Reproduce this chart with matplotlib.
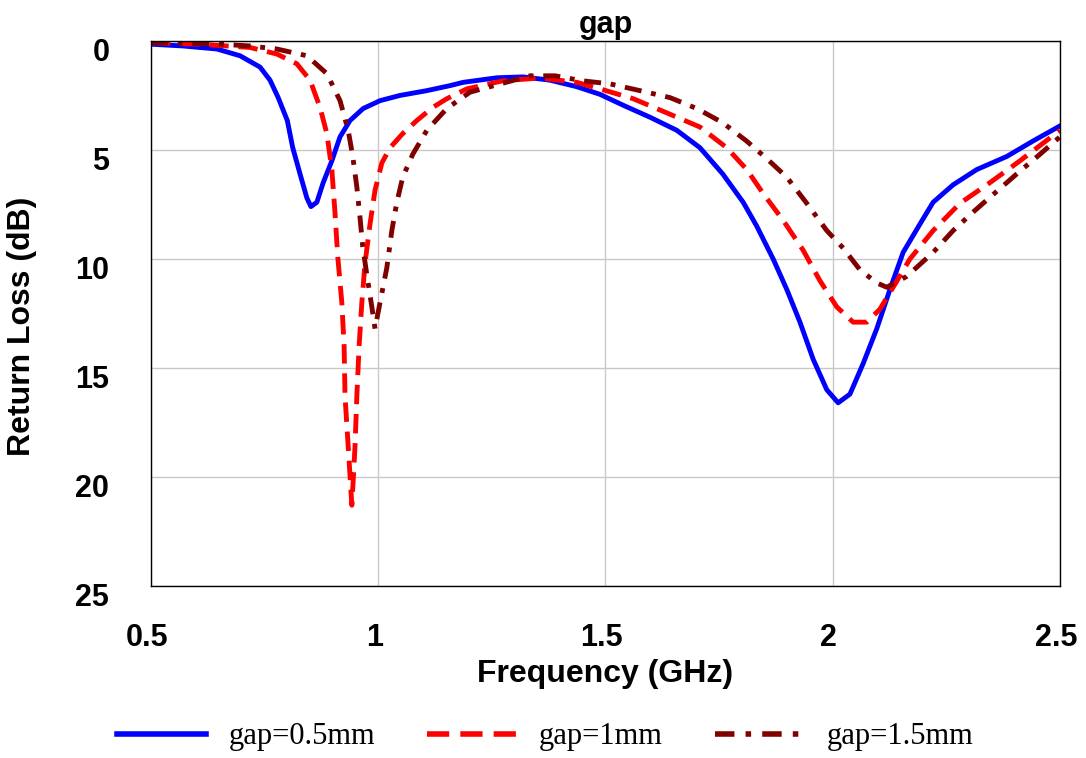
import matplotlib
matplotlib.use("Agg")
import matplotlib.pyplot as plt
import matplotlib.transforms as mtransforms

# Return loss curves (x in GHz, y in dB)
freq_05 = [0.5, 0.57, 0.645, 0.696, 0.74, 0.762, 0.78, 0.80, 0.812, 0.828, 0.843, 0.852,
           0.865, 0.879, 0.898, 0.916, 0.938, 0.967, 1.004, 1.048, 1.107, 1.158, 1.187,
           1.261, 1.318, 1.378, 1.437, 1.488, 1.539, 1.598, 1.657, 1.708, 1.758, 1.803,
           1.833, 1.869, 1.899, 1.928, 1.957, 1.987, 2.012, 2.038, 2.067, 2.097, 2.126,
           2.155, 2.192, 2.221, 2.265, 2.317, 2.383, 2.44, 2.5]
rl_05 = [0.15, 0.23, 0.37, 0.68, 1.2, 1.8, 2.6, 3.65, 4.9, 6.1, 7.2, 7.6,
         7.4, 6.5, 5.5, 4.4, 3.65, 3.1, 2.74, 2.5, 2.28, 2.05, 1.9,
         1.69, 1.65, 1.8, 2.1, 2.45, 2.95, 3.5, 4.1, 4.9, 6.1, 7.4,
         8.5, 10.0, 11.4, 12.9, 14.6, 16.0, 16.6, 16.2, 14.8, 13.2, 11.4,
         9.7, 8.4, 7.4, 6.6, 5.9, 5.3, 4.6, 3.9]

freq_1 = [0.5, 0.608, 0.718, 0.777, 0.821, 0.85, 0.872, 0.887, 0.898, 0.905, 0.911, 0.92,
          0.925, 0.927, 0.934, 0.942, 0.949, 0.953, 0.958, 0.964, 0.971, 0.982, 0.993,
          1.008, 1.026, 1.054, 1.085, 1.12, 1.151, 1.195, 1.274, 1.356, 1.437, 1.488,
          1.561, 1.635, 1.708, 1.767, 1.811, 1.847, 1.89, 1.935, 1.972, 2.009, 2.045,
          2.075, 2.104, 2.133, 2.17, 2.221, 2.28, 2.346, 2.412, 2.5]
rl_1 = [0.08, 0.15, 0.3, 0.6, 1.05, 1.8, 3.05, 4.25, 5.9, 7.9, 9.9, 12.0,
        14.0, 16.3, 18.6, 21.3, 18.6, 16.3, 14.0, 12.0, 10.2, 8.4, 6.85,
        5.6, 4.9, 4.25, 3.65, 3.05, 2.65, 2.2, 1.83, 1.7, 1.9, 2.2,
        2.65, 3.3, 3.95, 4.9, 5.9, 7.0, 8.2, 9.6, 11.0, 12.2, 12.9,
        12.9, 12.3, 11.3, 10.0, 8.7, 7.45, 6.5, 5.5, 4.1]

freq_15 = [0.5, 0.645, 0.718, 0.777, 0.843, 0.887, 0.916, 0.934, 0.944, 0.953, 0.96, 0.966,
           0.977, 0.986, 0.993, 1.004, 1.019, 1.03, 1.041, 1.054, 1.076, 1.107, 1.151,
           1.202, 1.334, 1.389, 1.45, 1.51, 1.576, 1.642, 1.701, 1.758, 1.811, 1.855,
           1.899, 1.943, 1.987, 2.023, 2.06, 2.097, 2.119, 2.163, 2.221, 2.265, 2.309,
           2.361, 2.405, 2.456, 2.5]
rl_15 = [0.08, 0.14, 0.23, 0.37, 0.68, 1.5, 2.74, 4.1, 5.3, 6.7, 8.1, 9.45,
         11.0, 12.2, 13.2, 12.0, 10.4, 8.7, 7.4, 6.25, 5.2, 4.1, 3.1,
         2.35, 1.6, 1.6, 1.83, 1.97, 2.28, 2.6, 3.1, 3.75, 4.6, 5.4,
         6.25, 7.45, 8.7, 9.5, 10.5, 11.1, 11.3, 10.8, 9.7, 8.7, 7.85,
         6.9, 6.1, 5.2, 4.4]

labels = ['gap=0.5mm', 'gap=1mm', 'gap=1.5mm']
x_ticks = [0.5, 1, 1.5, 2, 2.5]
x_tick_labels = ['0.5', '1', '1.5', '2', '2.5']
y_ticks = [0, 5, 10, 15, 20, 25]

plt.rcParams['font.family'] = ['Liberation Sans', 'DejaVu Sans']

fig = plt.figure(figsize=(10.86, 7.58), dpi=100)
ax = fig.add_axes([0.139, 0.227, 0.837, 0.719])

l1, = ax.plot(freq_05, rl_05, color='#0000FF', lw=3.5, label=labels[0])
l2, = ax.plot(freq_1, rl_1, color='#FF0000', lw=3.5, dashes=(4, 2), label=labels[1])
l3, = ax.plot(freq_15, rl_15, color='#800000', lw=3.5, dashes=(3.5, 2, 1, 2), label=labels[2])

ax.set_xlim(0.5, 2.5)
ax.set_ylim(25, 0)
ax.set_xticks(x_ticks)
ax.set_xticklabels(x_tick_labels)
ax.set_yticks(y_ticks)
ax.grid(True, color='#c8c8c8', lw=1)
ax.set_axisbelow(True)
ax.tick_params(length=0, labelsize=22)
ax.tick_params(axis='x', pad=27)
ax.tick_params(axis='y', pad=30)
for lab in ax.get_xticklabels() + ax.get_yticklabels():
    lab.set_fontweight('bold')
for lab in ax.get_xticklabels():
    lab.set_transform(lab.get_transform() + mtransforms.ScaledTranslation(-4 / 100, 0, fig.dpi_scale_trans))
for lab in ax.get_yticklabels():
    lab.set_transform(lab.get_transform() + mtransforms.ScaledTranslation(0, -9 / 100, fig.dpi_scale_trans))
for sp in ax.spines.values():
    sp.set_color('black')
    sp.set_linewidth(1)

ax.set_title('gap', fontsize=22, fontweight='bold', pad=6)
ax.set_xlabel('Frequency (GHz)', fontsize=23, fontweight='bold', labelpad=4)
ax.set_ylabel('Return Loss (dB)', fontsize=23, fontweight='bold')
ax.yaxis.set_label_coords(-0.125, 0.477)

leg = fig.legend(handles=[l1, l2, l3], loc='center', bbox_to_anchor=(0.502, 0.028),
                 ncol=3, frameon=False, handlelength=2.9, handletextpad=0.75,
                 columnspacing=1.7, prop={'family': 'Liberation Serif', 'size': 22})
for h in leg.get_lines():
    h.set_linewidth(4)

fig.savefig('out.png', dpi=100)
